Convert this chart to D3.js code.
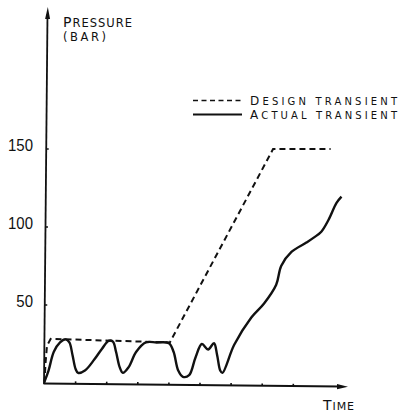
<!DOCTYPE html>
<html>
<head>
<meta charset="utf-8">
<script src="https://cdn.jsdelivr.net/npm/d3@7"></script>
<style>
  html, body { margin: 0; padding: 0; background: #fff; }
  svg { display: block; }
  text { font-family: "DejaVu Sans", sans-serif; fill: #111; }
</style>
</head>
<body>
<svg id="chart" width="401" height="413"></svg>
<script>
// ---- data ----
const yTickValues = [50, 100, 150];
const yTickLabels = ["50", "100", "150"];
const xTickValues = [1, 2, 3, 4, 5, 6, 7, 8];

// Design transient (dashed)
const designTimes  = [0, 0.03, 0.08, 0.2, 4.03, 7.35, 9.2];
const designValues = [0, 12, 24, 28.3, 26, 150, 150];

// Actual transient (solid)
const actualTimes  = [0, 0.13, 0.3, 0.5, 0.68, 0.8, 0.9, 1.0, 1.08, 1.3, 1.6, 1.85, 2.06, 2.2, 2.3, 2.42, 2.52, 2.7, 2.95, 3.26, 3.6, 4.0, 4.15, 4.3, 4.45, 4.65, 4.85, 5.06, 5.26, 5.45, 5.55, 5.65, 5.72, 6.1, 6.65, 7.06, 7.45, 7.61, 7.94, 8.42, 8.68, 8.9, 9.13, 9.39, 9.55];
const actualValues = [1, 8, 20, 26, 28, 26, 18, 9, 6.5, 8, 15, 22, 27, 26.5, 20, 10, 6.5, 10, 20, 26, 26, 25.5, 20, 8, 4, 5, 16, 25, 21.5, 25.5, 18, 8, 6.5, 24.5, 42, 51, 63, 75, 84, 90, 93.5, 97, 104.5, 115.5, 119.5];

const legendLabels = [["D", "ESIGN TRANSIENT"], ["A", "CTUAL TRANSIENT"]];

// ---- scales ----
const svg = d3.select("#chart");
const x = d3.scaleLinear().domain([0, 10]).range([44.5, 355.5]);
const y = d3.scaleLinear().domain([0, 150]).range([383, 149]);

const ink = "#111";

// ---- axes ----
svg.append("line")
  .attr("x1", x(0) - 0.5).attr("y1", y(0) + 1)
  .attr("x2", x(0) + 3).attr("y2", 14)
  .attr("stroke", ink).attr("stroke-width", 1.8);
svg.append("path")
  .attr("d", `M${x(0) + 3.3},7 L${x(0) + 0.6},19 L${x(0) + 5.6},19 Z`)
  .attr("fill", ink);

svg.append("line")
  .attr("x1", x(0) - 1).attr("y1", y(0) + 0.5)
  .attr("x2", 340).attr("y2", y(0) + 3.5)
  .attr("stroke", ink).attr("stroke-width", 1.8);
svg.append("path")
  .attr("d", `M348,${y(0) + 3.7} L337,${y(0) + 1} L337,${y(0) + 6.2} Z`)
  .attr("fill", ink);

svg.append("g").selectAll("line").data(xTickValues).join("line")
  .attr("x1", d => x(d)).attr("x2", d => x(d))
  .attr("y1", d => y(0) + 0.5 + d * 0.35 - 2.5)
  .attr("y2", d => y(0) + 0.5 + d * 0.35)
  .attr("stroke", ink).attr("stroke-width", 1.6);

const yAxisX = v => x(0) - 0.5 + (y(0) + 1 - y(v)) / (y(0) + 1 - 14) * 3.5;
svg.append("g").selectAll("line").data(yTickValues).join("line")
  .attr("x1", d => yAxisX(d)).attr("x2", d => yAxisX(d) + 2.5)
  .attr("y1", d => y(d)).attr("y2", d => y(d))
  .attr("stroke", ink).attr("stroke-width", 1.5);

svg.append("g").selectAll("text").data(yTickValues).join("text")
  .attr("transform", d => `translate(33,${y(d) + 2}) scale(0.88,1)`)
  .attr("text-anchor", "end")
  .style("font-family", "'Liberation Sans', Arial, sans-serif")
  .style("font-size", "17px")
  .text((d, i) => yTickLabels[i]);

// ---- series ----
const design = designTimes.map((t, i) => [t, designValues[i]]);
const actual = actualTimes.map((t, i) => [t, actualValues[i]]);

svg.append("path")
  .datum(design)
  .attr("fill", "none")
  .attr("stroke", ink)
  .attr("stroke-width", 2)
  .attr("stroke-dasharray", "6,4")
  .attr("d", d3.line().x(d => x(d[0])).y(d => y(d[1])));

svg.append("path")
  .datum(actual)
  .attr("fill", "none")
  .attr("stroke", ink)
  .attr("stroke-width", 2.4)
  .attr("stroke-linejoin", "round")
  .attr("d", d3.line().x(d => x(d[0])).y(d => y(d[1])).curve(d3.curveCatmullRom.alpha(0.5)));

// ---- axis titles ----
function smallCaps(sel, first, rest, big, small) {
  sel.append("tspan").style("font-size", big + "px").text(first);
  sel.append("tspan").style("font-size", small + "px").text(rest);
}

const t1 = svg.append("text").attr("x", 63).attr("y", 27)
  .attr("textLength", 69).attr("lengthAdjust", "spacing");
smallCaps(t1, "P", "RESSURE", 14, 11.5);

svg.append("text").attr("x", 63).attr("y", 41)
  .attr("textLength", 43).attr("lengthAdjust", "spacing")
  .style("font-size", "11.5px").text("(BAR)");

const t3 = svg.append("text").attr("x", 323).attr("y", 410)
  .attr("textLength", 31).attr("lengthAdjust", "spacing");
smallCaps(t3, "T", "IME", 14, 11);

// ---- legend ----
const legendY = [100.5, 114.5];
svg.append("line")
  .attr("x1", 193).attr("x2", 242).attr("y1", legendY[0]).attr("y2", legendY[0])
  .attr("stroke", ink).attr("stroke-width", 1.6).attr("stroke-dasharray", "5,3.5");
svg.append("line")
  .attr("x1", 193).attr("x2", 242).attr("y1", legendY[1]).attr("y2", legendY[1])
  .attr("stroke", ink).attr("stroke-width", 1.8);

legendLabels.forEach((lab, i) => {
  const t = svg.append("text").attr("x", 250).attr("y", legendY[i] + 4)
    .attr("textLength", 147).attr("lengthAdjust", "spacing");
  smallCaps(t, lab[0], lab[1], 12, 10);
});
</script>
</body>
</html>
